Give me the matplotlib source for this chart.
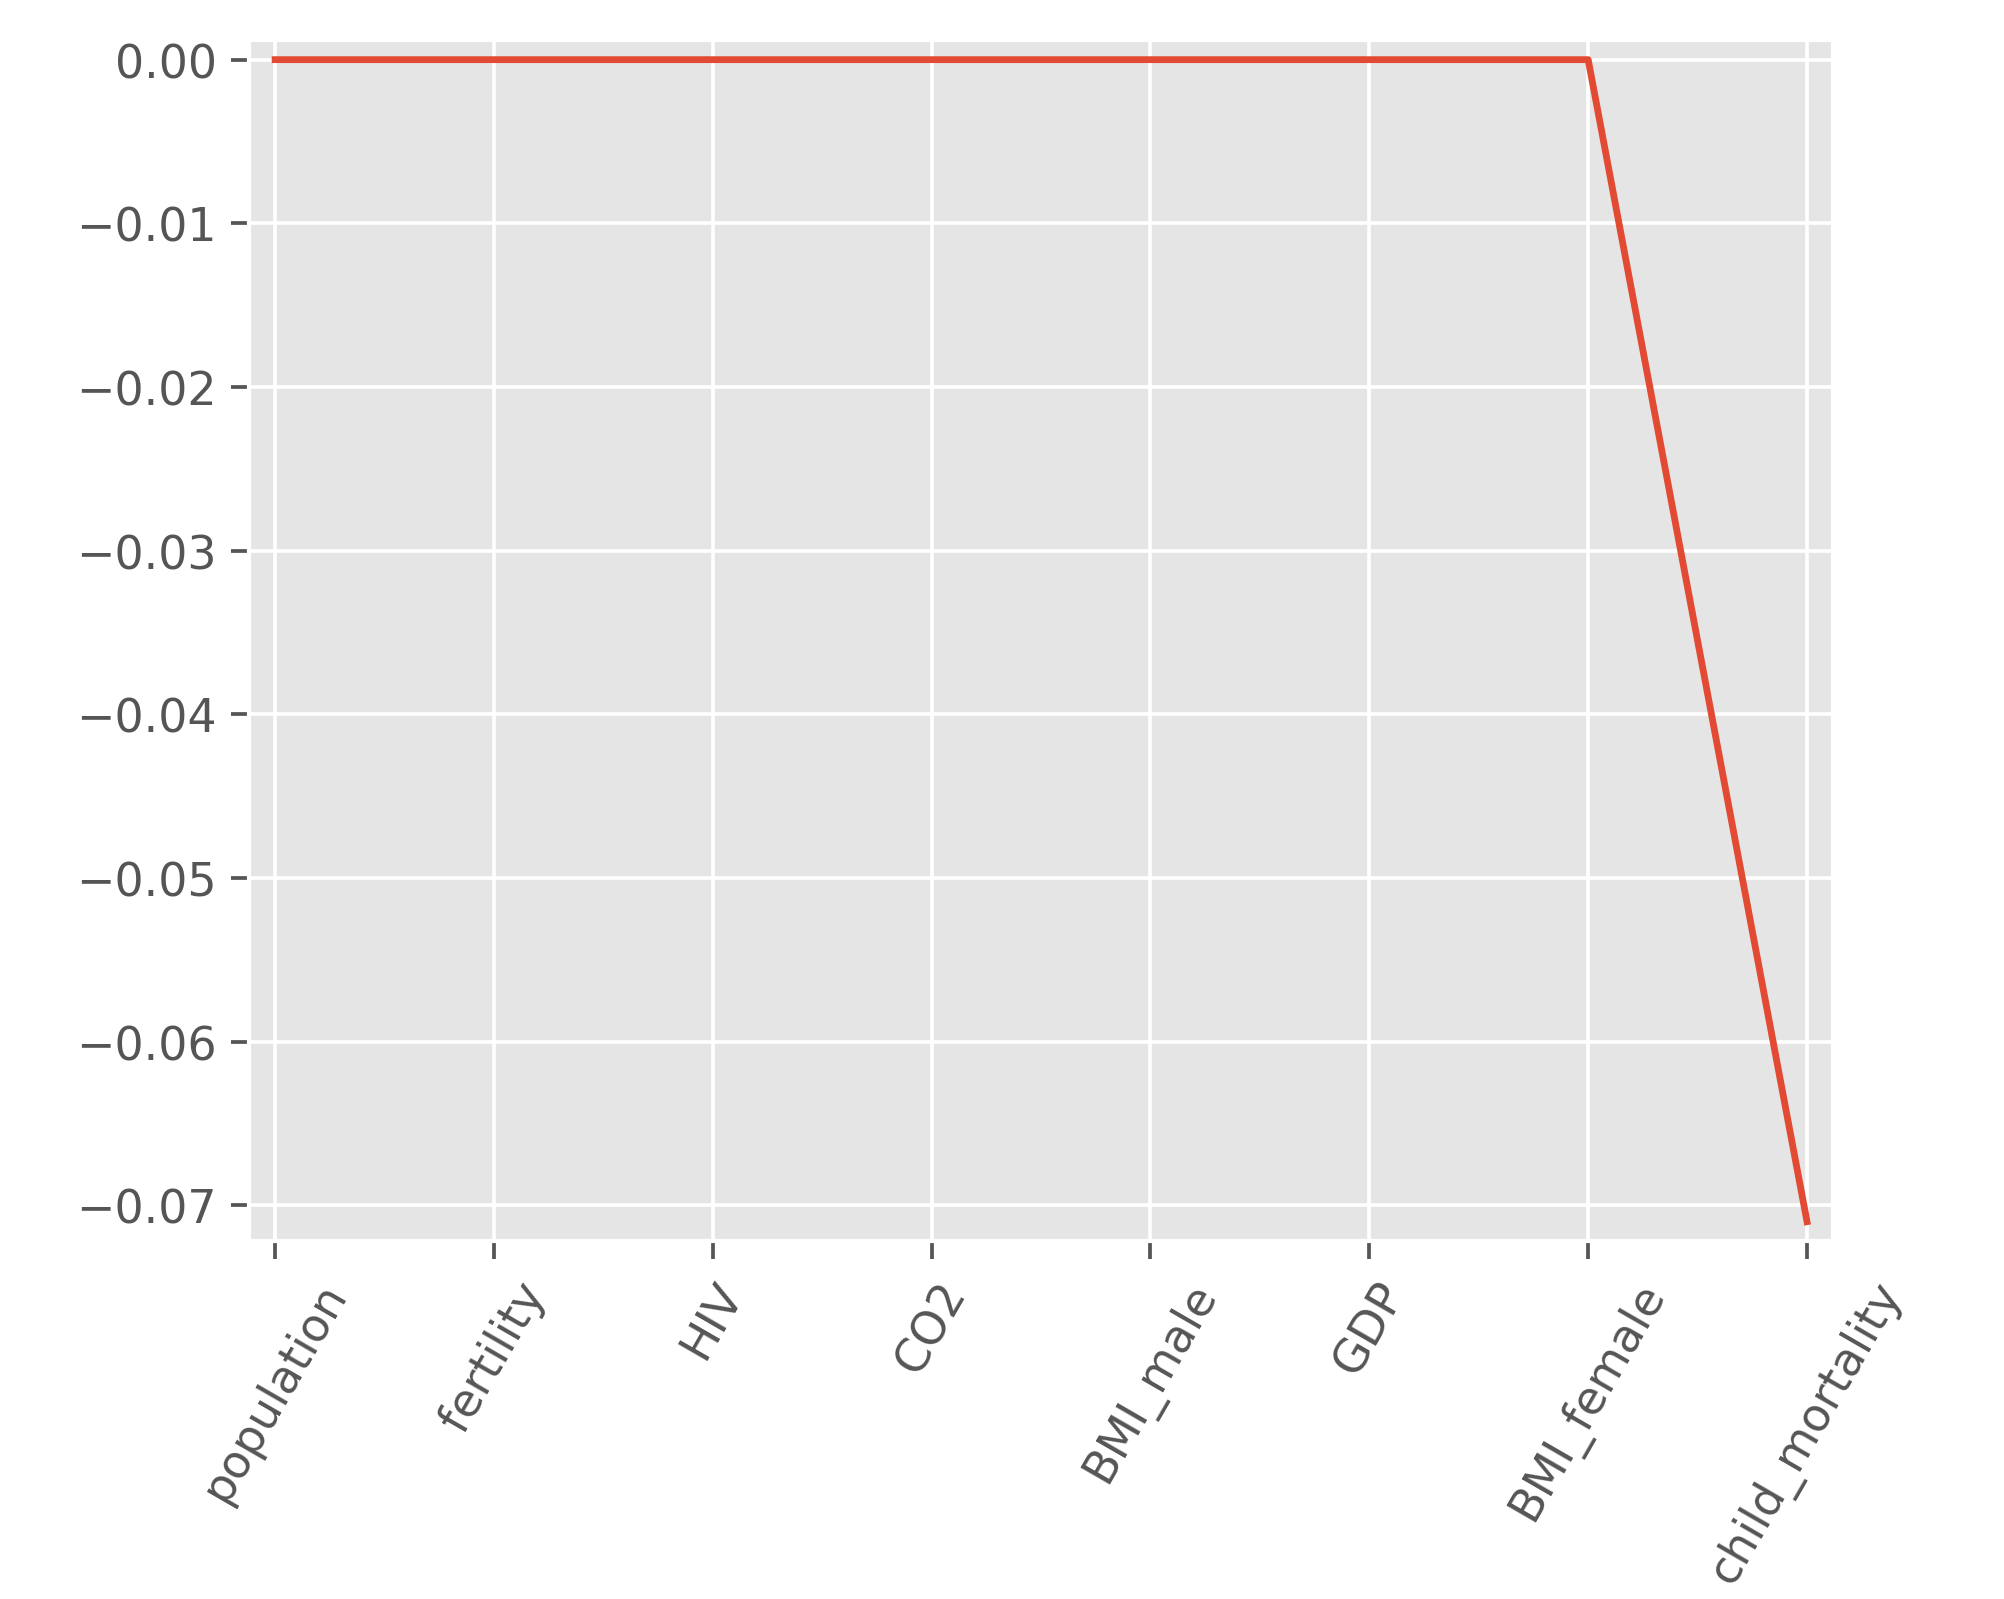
import numpy as np
import matplotlib.pyplot as plt

plt.style.use('ggplot')

features = ['population', 'fertility', 'HIV', 'CO2', 'BMI_male', 'GDP',
            'BMI_female', 'child_mortality']
coefs = [0.0, 0.0, 0.0, 0.0, 0.0, 0.0, 0.0, -0.0710]

fig = plt.figure(figsize=(6.68, 5.333), dpi=300)
ax = fig.add_axes([0.1243, 0.2235, 0.7904, 0.751])

ax.plot(range(len(features)), coefs, linewidth=1.63)
ax.margins(0.017)
ax.set_xticks(range(len(features)))
ax.set_xticklabels(features, rotation=60)
ax.tick_params(labelsize=11, length=4.3, width=0.9)
ax.grid(linewidth=0.87)

plt.savefig('out.png', dpi=300)
